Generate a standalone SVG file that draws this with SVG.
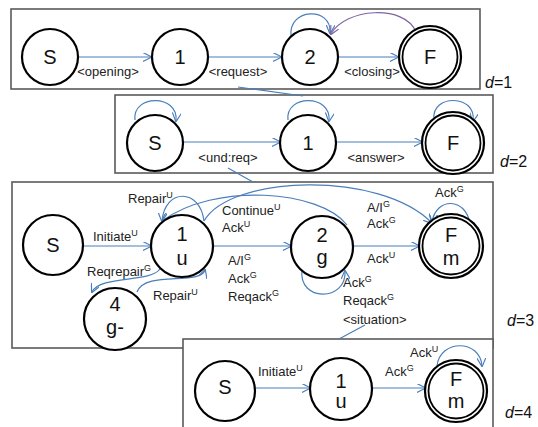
<svg xmlns="http://www.w3.org/2000/svg" width="538" height="427" viewBox="0 0 538 427">
<style>
.box{fill:#fff;stroke:#5a5a5a;stroke-width:1.6}
.n{fill:#fff;stroke:#000;stroke-width:2.2}
.n2{fill:none;stroke:#000;stroke-width:1.8}
.e{fill:none;stroke:#4a7ebb;stroke-width:1.2}
.p{fill:none;stroke:#8064a2;stroke-width:1.2}
.nl{font-family:"Liberation Sans",Arial,sans-serif;font-size:20px;fill:#111;text-anchor:middle}
.l{font-family:"Liberation Sans",Arial,sans-serif;font-size:13px;fill:#222}
.c{text-anchor:middle}
.s{font-size:9px}
.d{font-family:"Liberation Sans",Arial,sans-serif;font-size:16px;fill:#111}
</style>
<defs>
<marker id="a" viewBox="0 0 10 10" refX="9" refY="5" markerWidth="9" markerHeight="9" markerUnits="userSpaceOnUse" orient="auto">
<path d="M0,0 L10,5 L0,10" fill="none" stroke="#4a7ebb" stroke-width="1.3"/>
</marker>
<marker id="ap" viewBox="0 0 10 10" refX="9" refY="5" markerWidth="9" markerHeight="9" markerUnits="userSpaceOnUse" orient="auto">
<path d="M0,0 L10,5 L0,10" fill="none" stroke="#8064a2" stroke-width="1.3"/>
</marker>
</defs>

<g id="frames">
<rect class="box" x="11" y="9" width="469" height="80"/>
<rect class="box" x="115" y="95" width="378" height="78"/>
<rect class="box" x="12" y="182" width="481" height="166"/>
<rect class="box" x="183" y="339" width="310" height="100"/>
</g>

<g id="connectors">
<!-- links between levels -->
<path class="e" d="M238,87 L303,96"/>
<path class="e" d="M228,168 L253,182"/>
<path class="e" d="M365,325 L339,339"/>
<!-- d=1 -->
<path class="e" d="M78,57 L151,57" marker-end="url(#a)"/>
<path class="e" d="M208,57 L281,57" marker-end="url(#a)"/>
<path class="e" d="M338,57 L398,57" marker-end="url(#a)"/>
<path class="e" d="M291,36 C288,8 332,6 330,33" marker-end="url(#a)"/>
<path class="p" d="M416,32 C405,4 345,8 331,34" marker-end="url(#ap)"/>
<!-- d=2 -->
<path class="e" d="M183,142 L280,142" marker-end="url(#a)"/>
<path class="e" d="M336,142 L422,142" marker-end="url(#a)"/>
<path class="e" d="M135,120 C132,94 179,94 176,121" marker-end="url(#a)"/>
<path class="e" d="M288,120 C285,94 332,94 329,121" marker-end="url(#a)"/>
<path class="e" d="M434,119 C431,94 477,94 473,121" marker-end="url(#a)"/>
<!-- d=3 -->
<path class="e" d="M83,246 L151,246" marker-end="url(#a)"/>
<path class="e" d="M213,246 L291,246" marker-end="url(#a)"/>
<path class="e" d="M353,246 L419,246" marker-end="url(#a)"/>
<path class="e" d="M204,221 C200,188 165,188 162,221" marker-end="url(#a)"/>
<path class="e" d="M347,225 C320,190 215,182 162,221" marker-end="url(#a)"/>
<path class="e" d="M204,221 C230,175 380,170 432,223" marker-end="url(#a)"/>
<path class="e" d="M470,224 C466,197 436,197 432,222" marker-end="url(#a)"/>
<path class="e" d="M302,270 C298,302 347,302 345,271" marker-end="url(#a)"/>
<path class="e" d="M160,269 C150,283 100,275 92,292" marker-end="url(#a)"/>
<path class="e" d="M137,292 C145,270 200,286 205,270" marker-end="url(#a)"/>
<!-- d=4 -->
<path class="e" d="M255,388 L310,388" marker-end="url(#a)"/>
<path class="e" d="M372,388 L425,388" marker-end="url(#a)"/>
<path class="e" d="M437,366 C440,339 480,339 482,366" marker-end="url(#a)"/>
</g>

<g id="labels">
<text class="l c" x="108" y="76">&lt;opening&gt;</text>
<text class="l c" x="238" y="76">&lt;request&gt;</text>
<text class="l c" x="372" y="76">&lt;closing&gt;</text>
<text class="l c" x="228" y="162">&lt;und:req&gt;</text>
<text class="l c" x="376" y="162">&lt;answer&gt;</text>
<text class="l" x="93" y="241">Initiate<tspan class="s" dy="-5">U</tspan></text>
<text class="l" x="128" y="203">Repair<tspan class="s" dy="-5">U</tspan></text>
<text class="l" x="222" y="215">Continue<tspan class="s" dy="-5">U</tspan></text>
<text class="l" x="222" y="232">Ack<tspan class="s" dy="-5">U</tspan></text>
<text class="l" x="87" y="276">Reqrepair<tspan class="s" dy="-5">G</tspan></text>
<text class="l" x="153" y="300">Repair<tspan class="s" dy="-5">U</tspan></text>
<text class="l" x="228" y="265">A/I<tspan class="s" dy="-5">G</tspan></text>
<text class="l" x="228" y="283">Ack<tspan class="s" dy="-5">G</tspan></text>
<text class="l" x="228" y="301">Reqack<tspan class="s" dy="-5">G</tspan></text>
<text class="l" x="367" y="212">A/I<tspan class="s" dy="-5">G</tspan></text>
<text class="l" x="367" y="228">Ack<tspan class="s" dy="-5">G</tspan></text>
<text class="l" x="367" y="263">Ack<tspan class="s" dy="-5">U</tspan></text>
<text class="l" x="435" y="197">Ack<tspan class="s" dy="-5">G</tspan></text>
<text class="l" x="343" y="287">Ack<tspan class="s" dy="-5">G</tspan></text>
<text class="l" x="343" y="305">Reqack<tspan class="s" dy="-5">G</tspan></text>
<text class="l" x="343" y="324">&lt;situation&gt;</text>
<text class="l" x="258" y="376">Initiate<tspan class="s" dy="-5">U</tspan></text>
<text class="l" x="385" y="376">Ack<tspan class="s" dy="-5">G</tspan></text>
<text class="l" x="410" y="357">Ack<tspan class="s" dy="-5">U</tspan></text>
<text class="d" x="485" y="88"><tspan font-style="italic">d</tspan>=1</text>
<text class="d" x="500" y="167"><tspan font-style="italic">d</tspan>=2</text>
<text class="d" x="507" y="326"><tspan font-style="italic">d</tspan>=3</text>
<text class="d" x="505" y="418"><tspan font-style="italic">d</tspan>=4</text>
</g>

<g id="d1-S"><circle class="n" cx="50" cy="57" r="28"/><text class="nl" x="50" y="64">S</text></g>
<g id="d1-1"><circle class="n" cx="180" cy="57" r="28"/><text class="nl" x="180" y="64">1</text></g>
<g id="d1-2"><circle class="n" cx="310" cy="57" r="28"/><text class="nl" x="310" y="64">2</text></g>
<g id="d1-F"><circle class="n" cx="430" cy="57" r="31"/><circle class="n2" cx="430" cy="57" r="27.5"/><text class="nl" x="430" y="64">F</text></g>

<g id="d2-S"><circle class="n" cx="155" cy="143" r="28"/><text class="nl" x="155" y="150">S</text></g>
<g id="d2-1"><circle class="n" cx="308" cy="143" r="28"/><text class="nl" x="308" y="150">1</text></g>
<g id="d2-F"><circle class="n" cx="453" cy="143" r="31"/><circle class="n2" cx="453" cy="143" r="27.5"/><text class="nl" x="453" y="150">F</text></g>

<g id="d3-S"><circle class="n" cx="53" cy="245" r="30"/><text class="nl" x="53" y="252">S</text></g>
<g id="d3-1"><circle class="n" cx="182" cy="246" r="31"/><text class="nl" x="182" y="241">1</text><text class="nl" x="182" y="265">u</text></g>
<g id="d3-2"><circle class="n" cx="322" cy="247" r="31"/><text class="nl" x="322" y="242">2</text><text class="nl" x="322" y="264">g</text></g>
<g id="d3-F"><circle class="n" cx="451" cy="246" r="32"/><circle class="n2" cx="451" cy="246" r="28.5"/><text class="nl" x="451" y="242">F</text><text class="nl" x="451" y="265">m</text></g>
<g id="d3-4"><circle class="n" cx="115" cy="319" r="31"/><text class="nl" x="115" y="311">4</text><text class="nl" x="115" y="334">g-</text></g>

<g id="d4-S"><circle class="n" cx="225" cy="391" r="30"/><text class="nl" x="225" y="394">S</text></g>
<g id="d4-1"><circle class="n" cx="341" cy="389" r="31"/><text class="nl" x="341" y="388">1</text><text class="nl" x="341" y="408">u</text></g>
<g id="d4-F"><circle class="n" cx="456" cy="391" r="31"/><circle class="n2" cx="456" cy="391" r="27.5"/><text class="nl" x="456" y="386">F</text><text class="nl" x="456" y="408">m</text></g>
</svg>
